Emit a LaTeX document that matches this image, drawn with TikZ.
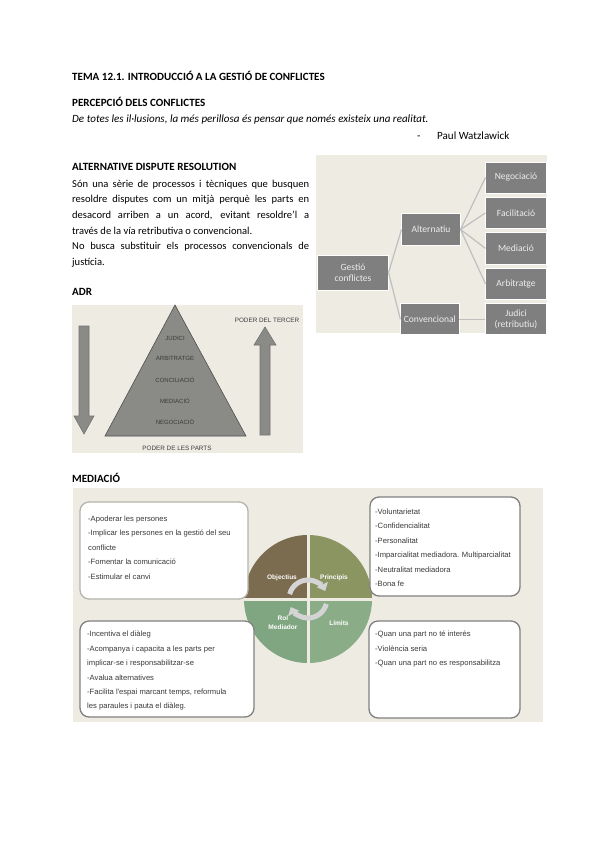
\documentclass[tikz,border=0pt]{standalone}
\usepackage{fontspec}
\setmainfont{Carlito}
\newfontfamily\diagfont{Liberation Sans}
\usetikzlibrary{arrows.meta, positioning}
\definecolor{pagebeige}{HTML}{EEEBE3}
\definecolor{boxgrey}{HTML}{7F7F7F}
\definecolor{linkgrey}{HTML}{BFBFBF}
\definecolor{pyrgrey}{HTML}{8A8A87}
\definecolor{pyredge}{HTML}{4F4F4F}
\definecolor{pyrtext}{HTML}{3A3A3A}
\definecolor{quadTL}{HTML}{7B6B4F}
\definecolor{quadTR}{HTML}{8B9562}
\definecolor{quadBL}{HTML}{7FA680}
\definecolor{quadBR}{HTML}{8AAD87}
\definecolor{cardedge}{HTML}{808080}
\definecolor{cardlight}{HTML}{B5B5AD}
\definecolor{cardtext}{HTML}{3A3A3A}
\definecolor{cyclegrey}{HTML}{D4D4D4}
\newlength{\adrwidth}\setlength{\adrwidth}{236pt}
\newcommand{\jline}[1]{\makebox[\adrwidth][s]{#1}}

\begin{document}
\begin{tikzpicture}[x=0.035cm, y=-0.035cm,
  heading/.style={anchor=base west, inner sep=0pt, font=\bfseries\fontsize{11}{13}\selectfont},
  bodytext/.style={anchor=base west, inner sep=0pt, font=\fontsize{11}{13}\selectfont},
  panel/.style={fill=pagebeige},
  treebox/.style={draw=white, line width=0.8pt, fill=boxgrey, text=white!93!black, align=center, inner sep=1pt, font=\fontsize{9.5}{10.5}\selectfont},
  leafbox/.style={treebox, minimum width=60pt, minimum height=31pt},
  link/.style={draw=linkgrey, line width=1.2pt},
  pyrlabel/.style={font=\diagfont\fontsize{6}{7}\selectfont, text=pyrtext, inner sep=0pt},
  arrowshape/.style={fill=pyrgrey, draw=pyredge!80, line width=0.6pt},
  card/.style={fill=white, draw=cardedge, line width=1.3pt, rounded corners=9pt},
  cardtext/.style={anchor=north west, inner sep=0pt, align=left, text=cardtext, font=\diagfont\fontsize{7.6}{14.4}\selectfont},
  quadlabel/.style={text=white, font=\diagfont\bfseries\fontsize{6.5}{9}\selectfont, align=center, inner sep=0pt},
  cyclearrow/.style={draw=cyclegrey, line width=5pt, -{Triangle[length=7pt, width=12pt]}}
]
\useasboundingbox[fill=white] (0,0) rectangle (600,848);

% page text
\node[heading] (tema) at (72,81) {TEMA 12.1. INTRODUCCIÓ A LA GESTIÓ DE CONFLICTES};
\node[heading] (percepcio) at (72,107) {PERCEPCIÓ DELS CONFLICTES};
\node[bodytext, font=\itshape\fontsize{11}{13}\selectfont] (cita) at (72,123) {De totes les il·lusions, la més perillosa és pensar que només existeix una realitat.};
\node[bodytext] (guio) at (417,140) {-};
\node[bodytext] (autor) at (437,140) {Paul Watzlawick};
\node[heading] (adrtitle) at (72,170) {ALTERNATIVE DISPUTE RESOLUTION};
\node[anchor=north west, inner sep=0pt, align=left, font=\fontsize{10.5}{15.6}\selectfont] (adrtext) at (72,179.5)
  {\jline{Són una sèrie de processos i tècniques que busquen}\\
   \jline{resoldre disputes com un mitjà perquè les parts en}\\
   \jline{desacord arriben a un acord, evitant resoldre'l a}\\
   través de la vía retributiva o convencional.\\
   \jline{No busca substituir els processos convencionals de}\\
   justícia.};
\node[heading] (adr) at (72,295) {ADR};
\node[heading] (mediaciotitle) at (72,482) {MEDIACIÓ};

% gestio de conflictes
\fill[panel] (316,155) rectangle (547,333);
\node[leafbox] (negociacio) at (516,177.5) {Negociació};
\node[leafbox, below=3.5pt of negociacio] (facilitacio) {Facilitació};
\node[leafbox, below=3.5pt of facilitacio] (mediaciobox) {Mediació};
\node[leafbox, below=3.5pt of mediaciobox] (arbitratge) {Arbitratge};
\node[leafbox, below=3.5pt of arbitratge] (judici) {Judici\\(retributiu)};
\node[treebox, minimum width=58pt, minimum height=32pt] (alternatiu) at (431,229.5) {Alternatiu};
\node[treebox, minimum width=58pt, minimum height=31pt, left=26pt of judici] (convencional) {Convencional};
\node[treebox, minimum width=70pt, minimum height=35pt] (gestio) at (353,272.5) {Gestió\\conflictes};
\draw[link] (gestio.east) -- (alternatiu.west);
\draw[link] (gestio.east) -- (convencional.west);
\foreach \leaf in {negociacio, facilitacio, mediaciobox, arbitratge}
  \draw[link] (alternatiu.east) -- (\leaf.west);
\draw[link] (convencional.east) -- (judici.west);

% piramide ADR
\fill[panel] (72,305) rectangle (303,453);
\draw[fill=pyrgrey, draw=pyredge, line width=0.6pt] (175,305) -- (246,436) -- (105,436) -- cycle;
\draw[arrowshape] (79,326) -- (89,326) -- (89,416) -- (94,416) -- (84,434) -- (74,416) -- (79,416) -- cycle;
\draw[arrowshape] (260,435) -- (270,435) -- (270,345) -- (276,345) -- (265,327) -- (254,345) -- (260,345) -- cycle;
\node[pyrlabel] (pjudici) at (175,338) {JUDICI};
\node[pyrlabel] (parbitratge) at (175,358) {ARBITRATGE};
\node[pyrlabel] (pconciliacio) at (175,380) {CONCILIACIÓ};
\node[pyrlabel] (pmediacio) at (175,401) {MEDIACIÓ};
\node[pyrlabel] (pnegociacio) at (175,422) {NEGOCIACIÓ};
\node[pyrlabel, font=\diagfont\fontsize{6.3}{7}\selectfont] (tercer) at (267,320) {PODER DEL TERCER};
\node[pyrlabel, font=\diagfont\fontsize{6.3}{7}\selectfont] (parts) at (177,448) {PODER DE LES PARTS};

% mediacio
\fill[panel] (73,488) rectangle (543,722);
\begin{scope}
  \clip (308,599) circle[radius=64];
  \fill[quadTL] (240,530) rectangle (306.5,597.5);
  \fill[quadTR] (309.5,530) rectangle (376,597.5);
  \fill[quadBL] (240,600.5) rectangle (306.5,670);
  \fill[quadBR] (309.5,600.5) rectangle (376,670);
\end{scope}
\draw[cyclearrow] ([shift={(-165:19)}]308,599) arc[start angle=-165, end angle=-25, radius=19];
\draw[cyclearrow] ([shift={(15:19)}]308,599) arc[start angle=15, end angle=155, radius=19];
\node[quadlabel] (objectius) at (282,578) {Objectius};
\node[quadlabel] (principis) at (334,578) {Principis};
\node[quadlabel] (rol) at (283,623) {Rol\\Mediador};
\node[quadlabel] (limits) at (339,623) {Límits};

\draw[card, draw=cardlight] (80,502) rectangle (248,599);
\draw[card] (370,497) rectangle (520,596);
\draw[card] (80,621) rectangle (254,717);
\draw[card] (369,621) rectangle (520,718);

\node[cardtext] (objtext) at (88,515.8)
  {-Apoderar les persones\\-Implicar les persones en la gestió del seu\\conflicte\\-Fomentar la comunicació\\-Estimular el canvi};
\node[cardtext] (printext) at (375,508.8)
  {-Voluntarietat\\-Confidencialitat\\-Personalitat\\-Imparcialitat mediadora. Multiparcialitat\\-Neutralitat mediadora\\-Bona fe};
\node[cardtext] (roltext) at (87,630.8)
  {-Incentiva el diàleg\\-Acompanya i capacita a les parts per\\implicar-se i responsabilitzar-se\\-Avalua alternatives\\-Facilita l'espai marcant temps, reformula\\les paraules i pauta el diàleg.};
\node[cardtext] (limtext) at (375,630.8)
  {-Quan una part no té interès\\-Violència seria\\-Quan una part no es responsabilitza};
\end{tikzpicture}
\end{document}
